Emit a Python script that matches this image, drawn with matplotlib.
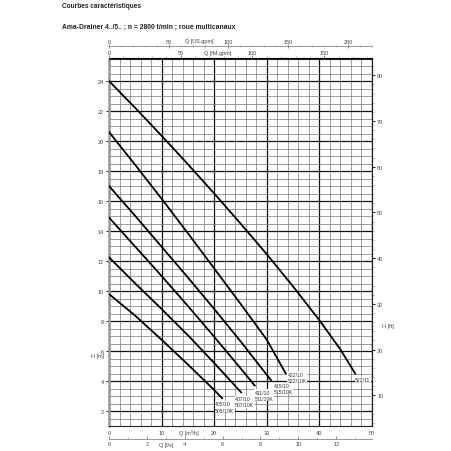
import matplotlib.pyplot as plt
from matplotlib.ticker import MultipleLocator

plt.rcParams['font.family'] = ['Liberation Sans', 'DejaVu Sans']

# pump curves: Q in m3/h, H in m
q_522_11 = [0, 5, 10, 15, 20, 25, 30, 35, 40, 44, 46.8]
h_522_11 = [24.0, 22.2, 20.35, 18.45, 16.5, 14.5, 12.45, 10.3, 8.05, 6.1, 4.5]
q_422_10 = [0, 5, 10, 15, 20, 25, 30, 33.6]
h_422_10 = [20.6, 18.4, 16.15, 13.85, 11.5, 9.15, 6.75, 4.5]
q_415_10 = [0, 5, 10, 15, 20, 25, 30.8]
h_415_10 = [17.0, 15.0, 12.95, 10.9, 8.8, 6.65, 4.05]
q_411_10 = [0, 5, 10, 15, 20, 25, 27.7]
h_411_10 = [14.9, 12.95, 11.0, 9.0, 6.95, 4.85, 3.7]
q_407_10 = [0, 5, 10, 15, 20, 25.1]
h_407_10 = [12.25, 10.5, 8.8, 7.05, 5.2, 3.25]
q_405_10 = [0, 5, 10, 15, 20, 21.5]
h_405_10 = [9.8, 8.35, 6.75, 5.1, 3.4, 2.85]

curve_names = ['522/11', '422/10\n522/10K', '415/10\n515/10K',
               '411/10\n511/10K', '407/10\n507/10K', '405/10\n505/10K']

title = 'Courbes caractéristiques'
subtitle = 'Ama-Drainer 4../5.. ; n = 2800 t/min ; roue multicanaux'

# unit conversions
M3H_TO_USGPM = 4.403
M3H_TO_IMGPM = 3.666
M3H_TO_LS = 1 / 3.6
M_TO_FT = 1 / 0.3048

W = 452.0
fig = plt.figure(figsize=(4.52, 4.52), dpi=100)
ax = fig.add_axes([109 / W, 25 / W, 263 / W, 367.5 / W])
ax.set_xlim(0, 50)
ax.set_ylim(1, 25.5)

ax.xaxis.set_major_locator(MultipleLocator(10))
ax.xaxis.set_minor_locator(MultipleLocator(2))
ax.yaxis.set_major_locator(MultipleLocator(2))
ax.yaxis.set_minor_locator(MultipleLocator(0.5))
ax.grid(which='minor', color='#767676', lw=0.5)
ax.grid(which='major', color='#111111', lw=0.9)
ax.set_axisbelow(True)

ax.tick_params(axis='x', which='both', length=0, labelsize=4, pad=3,
               labelcolor='#444')
ax.tick_params(axis='y', which='major', length=2.2, width=0.6, labelsize=4,
               pad=1.5, labelcolor='#444')
ax.tick_params(axis='y', which='minor', length=0)
ax.spines['left'].set(color='#999', lw=1.8)
ax.spines['top'].set(color='#222', lw=0.8)
ax.spines['bottom'].set(color='#222', lw=0.8)
ax.spines['right'].set(color='#222', lw=0.8)

series = [(q_522_11, h_522_11), (q_422_10, h_422_10), (q_415_10, h_415_10),
          (q_411_10, h_411_10), (q_407_10, h_407_10), (q_405_10, h_405_10)]
label_offsets = [(0, -2.6), (1.4, 1.4), (2, -2), (0, -2.9), (-4.3, -2.9), (-5, -2.2)]
for (q, h), name, off in zip(series, curve_names, label_offsets):
    ax.plot(q, h, color='black', lw=1.3, zorder=3, solid_joinstyle='round')
    ax.annotate(name, (q[-1], h[-1]), xytext=off, textcoords='offset points',
                ha='left', va='top', fontsize=3.7, color='#333', linespacing=1.3,
                zorder=4, bbox=dict(fc='white', ec='none', pad=0.2))

# right axis in feet
ax2 = ax.twinx()
ax2.set_ylim(1 * M_TO_FT, 25.5 * M_TO_FT)
ax2.yaxis.set_major_locator(MultipleLocator(10))
ax2.yaxis.set_minor_locator(MultipleLocator(2))
ax2.tick_params(which='major', length=2.2, width=0.6, labelsize=4, pad=1.5,
                labelcolor='#444')
ax2.tick_params(which='minor', length=1.5, width=0.4, color='#777')
for s in ['left', 'top', 'bottom']:
    ax2.spines[s].set_visible(False)
ax2.spines['right'].set(color='#222', lw=0.8)

# top axis IM gpm
sec_im = ax.secondary_xaxis('top', functions=(lambda q: q * M3H_TO_IMGPM,
                                              lambda g: g / M3H_TO_IMGPM))
sec_im.xaxis.set_major_locator(MultipleLocator(50))
sec_im.xaxis.set_minor_locator(MultipleLocator(10))
sec_im.tick_params(which='major', length=2, width=0.5, labelsize=4, pad=0.8,
                   labelcolor='#444', color='#555')
sec_im.tick_params(which='minor', length=1.5, width=0.4, color='#777')

# top axis US gpm
sec_us = ax.secondary_xaxis(1 + 12 / 367.5,
                            functions=(lambda q: q * M3H_TO_USGPM,
                                       lambda g: g / M3H_TO_USGPM))
sec_us.xaxis.set_major_locator(MultipleLocator(50))
sec_us.xaxis.set_minor_locator(MultipleLocator(10))
sec_us.tick_params(which='major', direction='inout', length=2.5, width=0.5,
                   labelsize=4, pad=0.8, labelcolor='#444', color='#666')
sec_us.tick_params(which='minor', direction='inout', length=2, width=0.4,
                   color='#777')
sec_us.spines['top'].set(color='#888', lw=0.6)

# bottom axis l/s
sec_ls = ax.secondary_xaxis(-13 / 367.5, functions=(lambda q: q * M3H_TO_LS,
                                                    lambda l: l / M3H_TO_LS))
sec_ls.xaxis.set_major_locator(MultipleLocator(2))
sec_ls.xaxis.set_minor_locator(MultipleLocator(1))
sec_ls.tick_params(which='major', direction='in', length=2.2, width=0.5,
                   labelsize=4, pad=1.2, labelcolor='#444', color='#666')
sec_ls.tick_params(which='minor', direction='in', length=1.6, width=0.4,
                   color='#777')
sec_ls.spines['bottom'].set(color='#888', lw=0.6)

# axis names
def px(x, y):
    return x / W, 1 - y / W

lab = dict(fontsize=4, color='#444', va='center', rotation=0)
fig.text(*px(104, 357), 'H [m]', ha='right', **lab)
fig.text(*px(382, 327), 'H [ft]', ha='left', **lab)
fig.text(*px(189, 433), 'Q [m³/h]', ha='center', **lab)
fig.text(*px(166, 446), 'Q [l/s]', ha='center', **lab)
fig.text(*px(218, 54), 'Q [IM.gpm]', ha='center', **lab)
fig.text(*px(199, 42), 'Q [US.gpm]', ha='center', **lab)

fig.text(*px(62, 6), title, ha='left', va='center', fontsize=4.7,
         fontweight='bold', color='#222')
fig.text(*px(62, 27.5), subtitle, ha='left', va='center', fontsize=4.9,
         fontweight='bold', color='#222')

fig.savefig('out.png', dpi=100, facecolor='white')
